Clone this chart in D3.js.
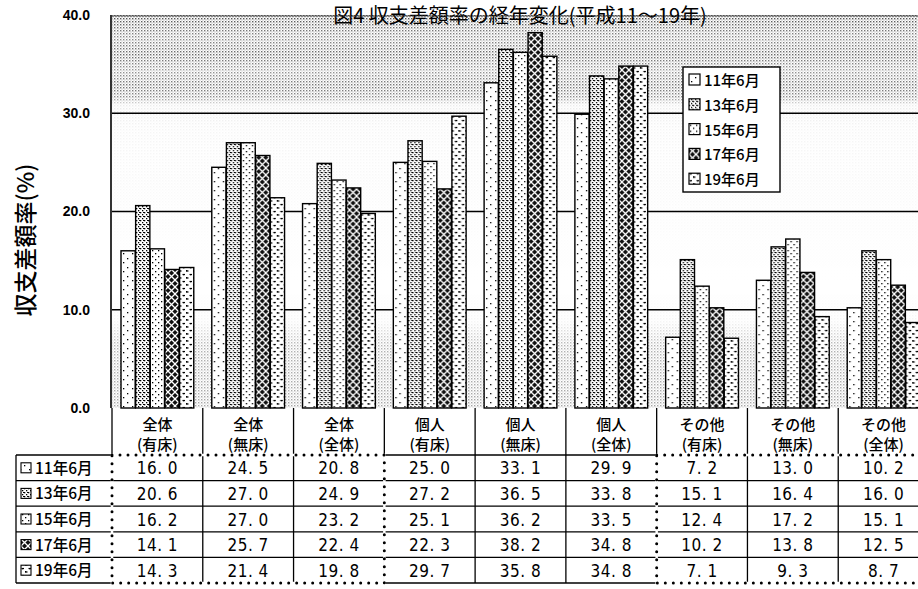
<!DOCTYPE html>
<html>
<head>
<meta charset="utf-8">
<script src="https://cdn.jsdelivr.net/npm/d3@7"></script>
<style>
  body { margin: 0; background: #fff; }
  svg { display: block; }
</style>
</head>
<body>
<div id="chart"></div>
<script>
const categoriesTop = ['全体', '全体', '全体', '個人', '個人', '個人', 'その他', 'その他', 'その他'];
const categoriesSub = ['(有床)', '(無床)', '(全体)', '(有床)', '(無床)', '(全体)', '(有床)', '(無床)', '(全体)'];
const seriesNames = ['11年6月', '13年6月', '15年6月', '17年6月', '19年6月'];
const values11 = [16.0, 24.5, 20.8, 25.0, 33.1, 29.9, 7.2, 13.0, 10.2];
const values13 = [20.6, 27.0, 24.9, 27.2, 36.5, 33.8, 15.1, 16.4, 16.0];
const values15 = [16.2, 27.0, 23.2, 25.1, 36.2, 33.5, 12.4, 17.2, 15.1];
const values17 = [14.1, 25.7, 22.4, 22.3, 38.2, 34.8, 10.2, 13.8, 12.5];
const values19 = [14.3, 21.4, 19.8, 29.7, 35.8, 34.8, 7.1, 9.3, 8.7];
const yTicks = [0, 10, 20, 30, 40];

const seriesValues = [values11, values13, values15, values17, values19];
const catIdx = d3.range(categoriesTop.length);

const W = 918, H = 589;
const plot = { left: 112, right: 929, top: 15, bottom: 408 };
const table = { labelLeft: 16, headerBottom: 455, rowH: 25.6 };

const svg = d3.select('#chart').append('svg')
  .attr('width', W).attr('height', H);

const defs = svg.append('defs');

// --- patterns for bars
function dotPattern(id, size, dots, bg) {
  const p = defs.append('pattern').attr('id', id)
    .attr('patternUnits', 'userSpaceOnUse')
    .attr('width', size).attr('height', size);
  p.append('rect').attr('width', size).attr('height', size).attr('fill', bg || '#fff');
  dots.forEach(d => p.append('rect').attr('x', d[0]).attr('y', d[1])
    .attr('width', d[2] || 1.3).attr('height', d[2] || 1.3).attr('fill', '#000'));
  return p;
}
dotPattern('p11', 9, [[2, 1], [6, 6]]);
dotPattern('p13', 4, [[0, 0], [2, 2], [3, 0, 1]]);
dotPattern('p15', 6, [[1, 1], [4, 4]]);
dotPattern('p19', 7, [[1, 1, 0], [4, 4, 0]]);
const p19 = defs.select('#p19');
p19.append('line').attr('x1', 0.5).attr('y1', 1.5).attr('x2', 3).attr('y2', 1.5)
  .attr('stroke', '#000').attr('stroke-width', 1.2);
p19.append('line').attr('x1', 4).attr('y1', 5).attr('x2', 6.5).attr('y2', 5)
  .attr('stroke', '#000').attr('stroke-width', 1.2);

const p17 = defs.append('pattern').attr('id', 'p17')
  .attr('patternUnits', 'userSpaceOnUse').attr('width', 7).attr('height', 7);
p17.append('rect').attr('width', 7).attr('height', 7).attr('fill', '#111');
p17.append('path').attr('d', 'M0,0L7,7M7,0L0,7')
  .attr('stroke', '#fff').attr('stroke-width', 1.3);

const fills = ['url(#p11)', 'url(#p13)', 'url(#p15)', 'url(#p17)', 'url(#p19)'];

// --- halftone background texture
const bgp = defs.append('pattern').attr('id', 'bgdots')
  .attr('patternUnits', 'userSpaceOnUse').attr('width', 3).attr('height', 3);
bgp.append('rect').attr('width', 1.4).attr('height', 1.4).attr('fill', '#000');
bgp.append('rect').attr('x', 1.5).attr('y', 1.5).attr('width', 1).attr('height', 1).attr('fill', '#444');

const grad = defs.append('linearGradient').attr('id', 'bgfade')
  .attr('x1', 0).attr('y1', 0).attr('x2', 0).attr('y2', 1);
[[0, 0.7], [0.06, 0.45], [0.1, 0.6], [0.14, 0.4], [0.18, 0.55], [0.21, 0.45], [0.23, 0.08],
 [0.3, 0.04], [0.7, 0], [0.78, 0.04], [0.84, 0.3], [1, 0.35]]
  .forEach(s => grad.append('stop').attr('offset', s[0])
    .attr('stop-color', '#fff').attr('stop-opacity', s[1]));
const mask = defs.append('mask').attr('id', 'bgmask');
mask.append('rect').attr('x', plot.left).attr('y', plot.top)
  .attr('width', plot.right - plot.left).attr('height', plot.bottom - plot.top)
  .attr('fill', 'url(#bgfade)');

// --- scales
const x = d3.scaleBand().domain(catIdx).range([plot.left, plot.right]).paddingInner(0).paddingOuter(0);
const xs = d3.scaleBand().domain(d3.range(seriesNames.length))
  .range([9, x.bandwidth() - 9]).paddingInner(0.03);
const y = d3.scaleLinear().domain([0, 40]).range([plot.bottom, plot.top]);

// background texture
svg.append('rect').attr('x', plot.left).attr('y', plot.top)
  .attr('width', plot.right - plot.left).attr('height', plot.bottom - plot.top)
  .attr('fill', 'url(#bgdots)').attr('mask', 'url(#bgmask)');

// title
svg.append('text').attr('x', 520).attr('y', 23)
  .attr('text-anchor', 'middle')
  .style('font-family', '"Noto Sans CJK JP", sans-serif')
  .style('font-size', '20px')
  .text('図4  収支差額率の経年変化(平成11～19年)');

// gridlines
svg.append('g').selectAll('line').data(yTicks.filter(t => t > 0 && t < 40)).join('line')
  .attr('x1', plot.left).attr('x2', plot.right)
  .attr('y1', d => y(d)).attr('y2', d => y(d))
  .attr('stroke', '#000').attr('stroke-width', 1.6);

// top frame (sparse)
svg.append('line').attr('x1', plot.left).attr('x2', plot.right)
  .attr('y1', y(40) + 1).attr('y2', y(40) + 1)
  .attr('stroke', '#333').attr('stroke-width', 1).attr('stroke-dasharray', '2,1');

// bars
const groups = svg.append('g').selectAll('g').data(catIdx).join('g')
  .attr('transform', d => `translate(${x(d)},0)`);
groups.selectAll('rect').data(c => seriesValues.map((vals, s) => ({ s: s, v: vals[c] }))).join('rect')
  .attr('x', d => xs(d.s))
  .attr('y', d => y(d.v))
  .attr('width', xs.bandwidth())
  .attr('height', d => y(0) - y(d.v))
  .attr('fill', d => fills[d.s])
  .attr('stroke', '#000').attr('stroke-width', 1.4);

// y axis line and tick labels
svg.append('line').attr('x1', plot.left - 1).attr('x2', plot.left - 1)
  .attr('y1', plot.top).attr('y2', plot.bottom)
  .attr('stroke', '#000').attr('stroke-width', 1.6);

const yAxis = d3.axisLeft(y).tickValues(yTicks).tickFormat(d3.format('.1f')).tickSize(0).tickPadding(22);
const ya = svg.append('g').attr('transform', `translate(${plot.left},0)`).call(yAxis);
ya.select('.domain').remove();
ya.selectAll('text')
  .style('font-family', '"Liberation Sans", Arial, sans-serif')
  .style('font-size', '14px').style('font-weight', 'bold').attr('fill', '#000');

// y axis title
svg.append('text')
  .attr('transform', 'translate(34,240) rotate(-90)')
  .attr('text-anchor', 'middle')
  .style('font-family', '"Noto Sans CJK JP", sans-serif')
  .style('font-size', '23px').style('font-weight', '500')
  .text('収支差額率(%)');

// legend
const lg = svg.append('g').attr('transform', 'translate(683,67)');
lg.append('rect').attr('width', 97).attr('height', 125)
  .attr('fill', '#fff').attr('stroke', '#000').attr('stroke-width', 1.4);
seriesNames.forEach((name, i) => {
  const row = lg.append('g').attr('transform', `translate(6,${13 + i * 24.8})`);
  row.append('rect').attr('x', 0).attr('y', -6).attr('width', 11).attr('height', 11)
    .attr('fill', fills[i]).attr('stroke', '#000').attr('stroke-width', 1.2);
  row.append('text').attr('x', 15).attr('y', 6)
    .style('font-family', '"Noto Sans CJK JP", sans-serif')
    .style('font-size', '15px').style('font-weight', '500')
    .text(name);
});

// --- data table
const tb = svg.append('g');
const rowY = i => table.headerBottom + i * table.rowH;
const tableBottom = rowY(seriesNames.length);
const fontJP = '"Noto Sans CJK JP", sans-serif';

// header labels
catIdx.forEach(c => {
  const cx = x(c) + x.bandwidth() / 2;
  tb.append('text').attr('x', cx).attr('y', 430).attr('text-anchor', 'middle')
    .style('font-family', fontJP).style('font-size', '15px').style('font-weight', '500').text(categoriesTop[c]);
  tb.append('text').attr('x', cx).attr('y', 450).attr('text-anchor', 'middle')
    .style('font-family', fontJP).style('font-size', '15px').style('font-weight', '500').text(categoriesSub[c]);
});

// horizontal lines
d3.range(seriesNames.length + 1).forEach(i => {
  tb.append('line').attr('x1', table.labelLeft)
    .attr('x2', plot.right).attr('y1', rowY(i)).attr('y2', rowY(i))
    .attr('stroke', '#000').attr('stroke-width', 1.3);
});
// vertical lines
catIdx.concat([catIdx.length]).forEach(c => {
  const xx = c < catIdx.length ? x(c) : plot.right;
  tb.append('line').attr('x1', xx).attr('x2', xx)
    .attr('y1', plot.bottom).attr('y2', tableBottom)
    .attr('stroke', '#000').attr('stroke-width', 1.3);
});
tb.append('line').attr('x1', table.labelLeft).attr('x2', table.labelLeft)
  .attr('y1', rowY(0)).attr('y2', tableBottom)
  .attr('stroke', '#000').attr('stroke-width', 1.3);

// dotted boxes around the 全体 and その他 blocks
[[0, 3], [6, 9]].forEach(b => {
  const x0 = x(b[0]), x1 = b[1] < catIdx.length ? x(b[1]) : plot.right;
  tb.append('rect').attr('x', x0).attr('y', rowY(0))
    .attr('width', x1 - x0).attr('height', tableBottom - rowY(0))
    .attr('fill', 'none').attr('stroke', '#fff').attr('stroke-width', 2.5);
  tb.append('rect').attr('x', x0).attr('y', rowY(0))
    .attr('width', x1 - x0).attr('height', tableBottom - rowY(0))
    .attr('fill', 'none').attr('stroke', '#000').attr('stroke-width', 3)
    .attr('stroke-linecap', 'round').attr('stroke-dasharray', '0,8');
});

// row labels and values
seriesNames.forEach((name, i) => {
  const cy = rowY(i) + table.rowH / 2;
  tb.append('rect').attr('x', 21).attr('y', cy - 5).attr('width', 10).attr('height', 10)
    .attr('fill', fills[i]).attr('stroke', '#000').attr('stroke-width', 1.1);
  tb.append('text').attr('x', 35).attr('y', cy + 6)
    .style('font-family', fontJP).style('font-size', '15.5px').style('font-weight', '500')
    .text(name);
  catIdx.forEach(c => {
    tb.append('text').attr('x', x(c) + x.bandwidth() / 2).attr('y', cy + 6.5)
      .attr('text-anchor', 'middle')
      .style('font-family', '"Liberation Sans Narrow", "DejaVu Sans Condensed", sans-serif')
      .style('font-size', '17px').style('letter-spacing', '0.5px')
      .text(d3.format('.1f')(seriesValues[i][c]).replace('.', '. '));
  });
});
</script>
</body>
</html>
